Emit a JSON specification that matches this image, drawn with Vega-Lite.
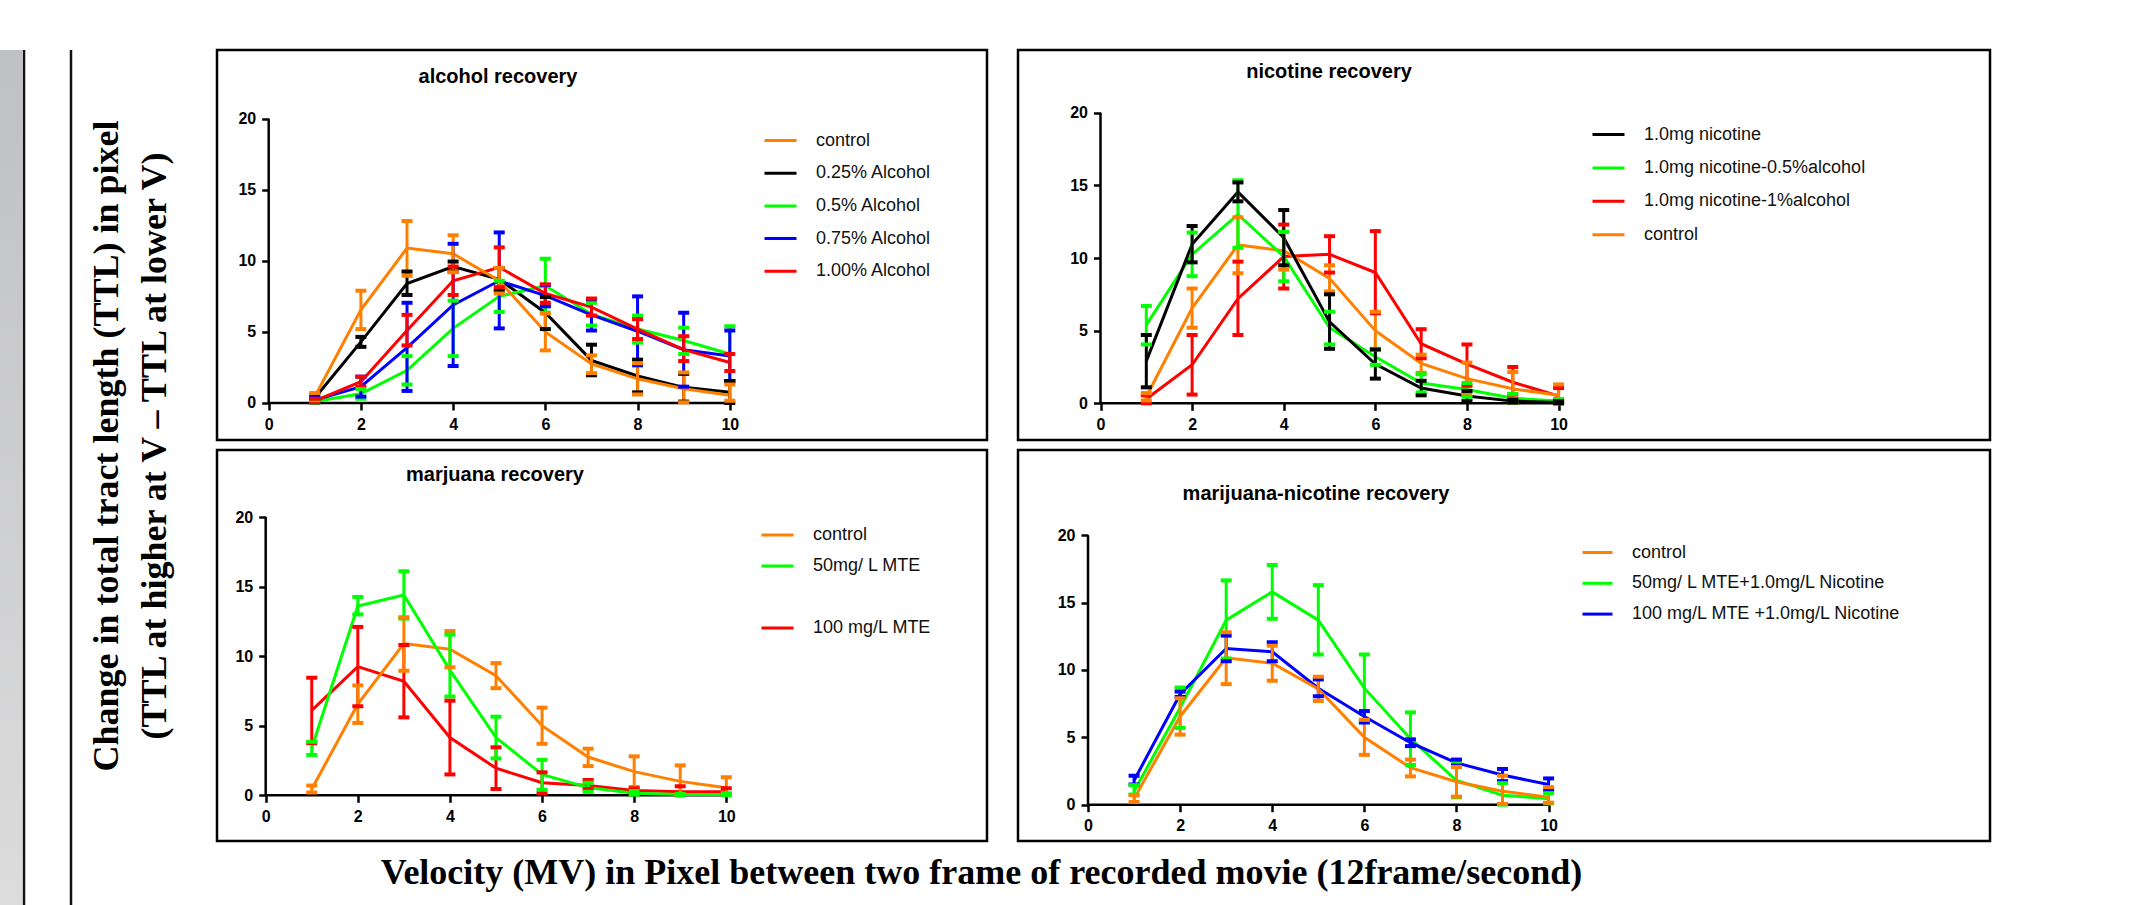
{
  "$schema": "https://vega.github.io/schema/vega-lite/v6.json",
  "background": "white",
  "padding": 0,
  "config": {
    "view": {"stroke": "black", "strokeWidth": 2.5},
    "axis": {"grid": false, "domain": false, "labelFont": "Liberation Sans", "labelFontWeight": "bold", "labelFontSize": 16, "labelColor": "black", "tickColor": "black", "tickWidth": 2.5, "tickSize": 7, "labelPadding": 6, "labelFlush": false},
    "legend": {"orient": "none", "title": null, "symbolType": "stroke", "symbolSize": 1024, "symbolStrokeWidth": 3.5, "labelFont": "Liberation Sans", "labelFontSize": 18, "labelColor": "#111", "labelOffset": 18, "labelLimit": 400, "padding": 0},
    "title": {"font": "Liberation Sans", "fontWeight": "bold", "fontSize": 20, "color": "black", "frame": "group", "anchor": "middle"},
    "line": {"strokeWidth": 3},
    "rule": {"strokeWidth": 3},
    "tick": {"opacity": 1, "orient": "horizontal", "size": 11, "thickness": 4}
  },
  "datasets": {
    "alcohol": [
      {"group":"0.25% Alcohol","v":1,"ttl":0.35,"lo":0.15,"hi":0.55},{"group":"0.25% Alcohol","v":2,"ttl":4.3,"lo":3.95,"hi":4.65},{"group":"0.25% Alcohol","v":3,"ttl":8.4,"lo":7.6,"hi":9.25},{"group":"0.25% Alcohol","v":4,"ttl":9.6,"lo":9.25,"hi":9.95},{"group":"0.25% Alcohol","v":5,"ttl":8.7,"lo":7.9,"hi":9.5},{"group":"0.25% Alcohol","v":6,"ttl":6.35,"lo":5.2,"hi":7.45},{"group":"0.25% Alcohol","v":7,"ttl":3.0,"lo":1.95,"hi":4.1},{"group":"0.25% Alcohol","v":8,"ttl":1.9,"lo":0.75,"hi":3.05},{"group":"0.25% Alcohol","v":9,"ttl":1.1,"lo":0.1,"hi":2.05},{"group":"0.25% Alcohol","v":10,"ttl":0.75,"lo":0.0,"hi":1.55},
      {"group":"0.5% Alcohol","v":1,"ttl":0.1,"lo":0.0,"hi":0.25},{"group":"0.5% Alcohol","v":2,"ttl":0.65,"lo":0.3,"hi":0.98},{"group":"0.5% Alcohol","v":3,"ttl":2.3,"lo":1.3,"hi":3.3},{"group":"0.5% Alcohol","v":4,"ttl":5.25,"lo":3.3,"hi":7.2},{"group":"0.5% Alcohol","v":5,"ttl":7.5,"lo":6.4,"hi":8.6},{"group":"0.5% Alcohol","v":6,"ttl":8.25,"lo":6.35,"hi":10.15},{"group":"0.5% Alcohol","v":7,"ttl":6.25,"lo":5.45,"hi":7.05},{"group":"0.5% Alcohol","v":8,"ttl":5.2,"lo":4.25,"hi":6.15},{"group":"0.5% Alcohol","v":9,"ttl":4.4,"lo":3.45,"hi":5.3},{"group":"0.5% Alcohol","v":10,"ttl":3.45,"lo":1.5,"hi":5.4},
      {"group":"0.75% Alcohol","v":1,"ttl":0.2,"lo":0.05,"hi":0.35},{"group":"0.75% Alcohol","v":2,"ttl":1.15,"lo":0.45,"hi":1.85},{"group":"0.75% Alcohol","v":3,"ttl":3.9,"lo":0.85,"hi":7.05},{"group":"0.75% Alcohol","v":4,"ttl":6.9,"lo":2.6,"hi":11.2},{"group":"0.75% Alcohol","v":5,"ttl":8.6,"lo":5.25,"hi":12.0},{"group":"0.75% Alcohol","v":6,"ttl":7.55,"lo":6.8,"hi":8.3},{"group":"0.75% Alcohol","v":7,"ttl":6.2,"lo":5.1,"hi":7.3},{"group":"0.75% Alcohol","v":8,"ttl":5.05,"lo":2.65,"hi":7.5},{"group":"0.75% Alcohol","v":9,"ttl":3.75,"lo":1.15,"hi":6.35},{"group":"0.75% Alcohol","v":10,"ttl":3.3,"lo":1.55,"hi":5.1},
      {"group":"1.00% Alcohol","v":1,"ttl":0.15,"lo":0.05,"hi":0.3},{"group":"1.00% Alcohol","v":2,"ttl":1.5,"lo":1.15,"hi":1.85},{"group":"1.00% Alcohol","v":3,"ttl":5.1,"lo":4.05,"hi":6.2},{"group":"1.00% Alcohol","v":4,"ttl":8.6,"lo":7.6,"hi":9.6},{"group":"1.00% Alcohol","v":5,"ttl":9.55,"lo":8.15,"hi":10.95},{"group":"1.00% Alcohol","v":6,"ttl":7.7,"lo":7.05,"hi":8.35},{"group":"1.00% Alcohol","v":7,"ttl":6.75,"lo":6.15,"hi":7.35},{"group":"1.00% Alcohol","v":8,"ttl":5.2,"lo":4.5,"hi":5.9},{"group":"1.00% Alcohol","v":9,"ttl":3.75,"lo":2.95,"hi":4.7},{"group":"1.00% Alcohol","v":10,"ttl":2.85,"lo":2.25,"hi":3.45},
      {"group":"control","v":1,"ttl":0.45,"lo":0.2,"hi":0.7},{"group":"control","v":2,"ttl":6.55,"lo":5.2,"hi":7.9},{"group":"control","v":3,"ttl":10.9,"lo":8.95,"hi":12.8},{"group":"control","v":4,"ttl":10.5,"lo":9.2,"hi":11.8},{"group":"control","v":5,"ttl":8.6,"lo":7.7,"hi":9.5},{"group":"control","v":6,"ttl":5.0,"lo":3.7,"hi":6.3},{"group":"control","v":7,"ttl":2.75,"lo":2.1,"hi":3.35},{"group":"control","v":8,"ttl":1.7,"lo":0.6,"hi":2.8},{"group":"control","v":9,"ttl":1.0,"lo":0.05,"hi":2.15},{"group":"control","v":10,"ttl":0.55,"lo":0.15,"hi":1.3}
    ],
    "nicotine": [
      {"group":"1.0mg nicotine-1%alcohol","v":1,"ttl":0.3,"lo":0.0,"hi":0.55},{"group":"1.0mg nicotine-1%alcohol","v":2,"ttl":2.65,"lo":0.6,"hi":4.7},{"group":"1.0mg nicotine-1%alcohol","v":3,"ttl":7.2,"lo":4.7,"hi":9.75},{"group":"1.0mg nicotine-1%alcohol","v":4,"ttl":10.1,"lo":7.9,"hi":12.3},{"group":"1.0mg nicotine-1%alcohol","v":5,"ttl":10.25,"lo":9.0,"hi":11.5},{"group":"1.0mg nicotine-1%alcohol","v":6,"ttl":9.0,"lo":6.2,"hi":11.85},{"group":"1.0mg nicotine-1%alcohol","v":7,"ttl":4.1,"lo":3.1,"hi":5.1},{"group":"1.0mg nicotine-1%alcohol","v":8,"ttl":2.7,"lo":1.2,"hi":4.05},{"group":"1.0mg nicotine-1%alcohol","v":9,"ttl":1.45,"lo":0.6,"hi":2.5},{"group":"1.0mg nicotine-1%alcohol","v":10,"ttl":0.5,"lo":0.0,"hi":1.05},
      {"group":"control","v":1,"ttl":0.45,"lo":0.2,"hi":0.7},{"group":"control","v":2,"ttl":6.55,"lo":5.2,"hi":7.9},{"group":"control","v":3,"ttl":10.9,"lo":8.95,"hi":12.8},{"group":"control","v":4,"ttl":10.5,"lo":9.2,"hi":11.8},{"group":"control","v":5,"ttl":8.6,"lo":7.7,"hi":9.5},{"group":"control","v":6,"ttl":5.0,"lo":3.7,"hi":6.3},{"group":"control","v":7,"ttl":2.75,"lo":2.1,"hi":3.35},{"group":"control","v":8,"ttl":1.7,"lo":0.6,"hi":2.8},{"group":"control","v":9,"ttl":1.0,"lo":0.05,"hi":2.15},{"group":"control","v":10,"ttl":0.55,"lo":0.15,"hi":1.3},
      {"group":"1.0mg nicotine-0.5%alcohol","v":1,"ttl":5.4,"lo":4.05,"hi":6.7},{"group":"1.0mg nicotine-0.5%alcohol","v":2,"ttl":10.25,"lo":8.75,"hi":11.75},{"group":"1.0mg nicotine-0.5%alcohol","v":3,"ttl":13.0,"lo":10.7,"hi":15.35},{"group":"1.0mg nicotine-0.5%alcohol","v":4,"ttl":10.1,"lo":8.4,"hi":11.8},{"group":"1.0mg nicotine-0.5%alcohol","v":5,"ttl":5.2,"lo":4.05,"hi":6.3},{"group":"1.0mg nicotine-0.5%alcohol","v":6,"ttl":3.2,"lo":2.65,"hi":3.75},{"group":"1.0mg nicotine-0.5%alcohol","v":7,"ttl":1.4,"lo":0.75,"hi":2.0},{"group":"1.0mg nicotine-0.5%alcohol","v":8,"ttl":0.95,"lo":0.45,"hi":1.4},{"group":"1.0mg nicotine-0.5%alcohol","v":9,"ttl":0.35,"lo":0.05,"hi":0.65},{"group":"1.0mg nicotine-0.5%alcohol","v":10,"ttl":0.15,"lo":0.0,"hi":0.3},
      {"group":"1.0mg nicotine","v":1,"ttl":2.9,"lo":1.1,"hi":4.7},{"group":"1.0mg nicotine","v":2,"ttl":10.95,"lo":9.7,"hi":12.2},{"group":"1.0mg nicotine","v":3,"ttl":14.55,"lo":13.9,"hi":15.2},{"group":"1.0mg nicotine","v":4,"ttl":11.4,"lo":9.5,"hi":13.3},{"group":"1.0mg nicotine","v":5,"ttl":5.6,"lo":3.75,"hi":7.5},{"group":"1.0mg nicotine","v":6,"ttl":2.7,"lo":1.7,"hi":3.7},{"group":"1.0mg nicotine","v":7,"ttl":1.05,"lo":0.55,"hi":1.55},{"group":"1.0mg nicotine","v":8,"ttl":0.5,"lo":0.15,"hi":0.85},{"group":"1.0mg nicotine","v":9,"ttl":0.15,"lo":0.05,"hi":0.25},{"group":"1.0mg nicotine","v":10,"ttl":0.05,"lo":0.0,"hi":0.15}
    ],
    "marjuana": [
      {"group":"100 mg/L MTE","v":1,"ttl":6.1,"lo":3.75,"hi":8.45},{"group":"100 mg/L MTE","v":2,"ttl":9.25,"lo":6.4,"hi":12.1},{"group":"100 mg/L MTE","v":3,"ttl":8.2,"lo":5.6,"hi":10.8},{"group":"100 mg/L MTE","v":4,"ttl":4.15,"lo":1.5,"hi":6.8},{"group":"100 mg/L MTE","v":5,"ttl":1.95,"lo":0.45,"hi":3.45},{"group":"100 mg/L MTE","v":6,"ttl":0.9,"lo":0.15,"hi":1.65},{"group":"100 mg/L MTE","v":7,"ttl":0.7,"lo":0.45,"hi":1.1},{"group":"100 mg/L MTE","v":8,"ttl":0.35,"lo":0.2,"hi":0.5},{"group":"100 mg/L MTE","v":9,"ttl":0.25,"lo":0.0,"hi":0.65},{"group":"100 mg/L MTE","v":10,"ttl":0.25,"lo":0.05,"hi":0.5},
      {"group":"control","v":1,"ttl":0.45,"lo":0.2,"hi":0.7},{"group":"control","v":2,"ttl":6.55,"lo":5.2,"hi":7.9},{"group":"control","v":3,"ttl":10.9,"lo":8.95,"hi":12.8},{"group":"control","v":4,"ttl":10.5,"lo":9.2,"hi":11.8},{"group":"control","v":5,"ttl":8.6,"lo":7.7,"hi":9.5},{"group":"control","v":6,"ttl":5.0,"lo":3.7,"hi":6.3},{"group":"control","v":7,"ttl":2.75,"lo":2.1,"hi":3.35},{"group":"control","v":8,"ttl":1.7,"lo":0.6,"hi":2.8},{"group":"control","v":9,"ttl":1.0,"lo":0.05,"hi":2.15},{"group":"control","v":10,"ttl":0.55,"lo":0.15,"hi":1.3},
      {"group":"50mg/ L MTE","v":1,"ttl":3.4,"lo":2.9,"hi":3.85},{"group":"50mg/ L MTE","v":2,"ttl":13.6,"lo":13.0,"hi":14.25},{"group":"50mg/ L MTE","v":3,"ttl":14.4,"lo":12.7,"hi":16.1},{"group":"50mg/ L MTE","v":4,"ttl":9.0,"lo":7.1,"hi":11.55},{"group":"50mg/ L MTE","v":5,"ttl":4.15,"lo":2.65,"hi":5.65},{"group":"50mg/ L MTE","v":6,"ttl":1.5,"lo":0.4,"hi":2.55},{"group":"50mg/ L MTE","v":7,"ttl":0.55,"lo":0.25,"hi":0.9},{"group":"50mg/ L MTE","v":8,"ttl":0.15,"lo":0.05,"hi":0.3},{"group":"50mg/ L MTE","v":9,"ttl":0.05,"lo":0.0,"hi":0.1},{"group":"50mg/ L MTE","v":10,"ttl":0.05,"lo":0.0,"hi":0.1}
    ],
    "marijuanaNicotine": [
      {"group":"50mg/ L MTE+1.0mg/L Nicotine","v":1,"ttl":1.0,"lo":0.75,"hi":1.45},{"group":"50mg/ L MTE+1.0mg/L Nicotine","v":2,"ttl":7.2,"lo":5.7,"hi":8.7},{"group":"50mg/ L MTE+1.0mg/L Nicotine","v":3,"ttl":13.7,"lo":10.85,"hi":16.65},{"group":"50mg/ L MTE+1.0mg/L Nicotine","v":4,"ttl":15.8,"lo":13.8,"hi":17.8},{"group":"50mg/ L MTE+1.0mg/L Nicotine","v":5,"ttl":13.7,"lo":11.15,"hi":16.3},{"group":"50mg/ L MTE+1.0mg/L Nicotine","v":6,"ttl":8.65,"lo":6.2,"hi":11.15},{"group":"50mg/ L MTE+1.0mg/L Nicotine","v":7,"ttl":4.9,"lo":2.95,"hi":6.85},{"group":"50mg/ L MTE+1.0mg/L Nicotine","v":8,"ttl":1.8,"lo":0.55,"hi":3.2},{"group":"50mg/ L MTE+1.0mg/L Nicotine","v":9,"ttl":0.7,"lo":0.0,"hi":1.6},{"group":"50mg/ L MTE+1.0mg/L Nicotine","v":10,"ttl":0.45,"lo":0.1,"hi":0.85},
      {"group":"100 mg/L MTE +1.0mg/L Nicotine","v":1,"ttl":1.8,"lo":1.5,"hi":2.15},{"group":"100 mg/L MTE +1.0mg/L Nicotine","v":2,"ttl":8.2,"lo":8.0,"hi":8.4},{"group":"100 mg/L MTE +1.0mg/L Nicotine","v":3,"ttl":11.6,"lo":10.65,"hi":12.55},{"group":"100 mg/L MTE +1.0mg/L Nicotine","v":4,"ttl":11.35,"lo":10.65,"hi":12.05},{"group":"100 mg/L MTE +1.0mg/L Nicotine","v":5,"ttl":8.65,"lo":8.05,"hi":9.3},{"group":"100 mg/L MTE +1.0mg/L Nicotine","v":6,"ttl":6.55,"lo":6.1,"hi":6.95},{"group":"100 mg/L MTE +1.0mg/L Nicotine","v":7,"ttl":4.6,"lo":4.35,"hi":4.85},{"group":"100 mg/L MTE +1.0mg/L Nicotine","v":8,"ttl":3.1,"lo":3.05,"hi":3.35},{"group":"100 mg/L MTE +1.0mg/L Nicotine","v":9,"ttl":2.2,"lo":1.75,"hi":2.65},{"group":"100 mg/L MTE +1.0mg/L Nicotine","v":10,"ttl":1.5,"lo":1.1,"hi":1.95},
      {"group":"control","v":1,"ttl":0.45,"lo":0.2,"hi":0.7},{"group":"control","v":2,"ttl":6.55,"lo":5.2,"hi":7.9},{"group":"control","v":3,"ttl":10.9,"lo":8.95,"hi":12.8},{"group":"control","v":4,"ttl":10.5,"lo":9.2,"hi":11.8},{"group":"control","v":5,"ttl":8.6,"lo":7.7,"hi":9.5},{"group":"control","v":6,"ttl":5.0,"lo":3.7,"hi":6.3},{"group":"control","v":7,"ttl":2.75,"lo":2.1,"hi":3.35},{"group":"control","v":8,"ttl":1.7,"lo":0.6,"hi":2.8},{"group":"control","v":9,"ttl":1.0,"lo":0.05,"hi":2.15},{"group":"control","v":10,"ttl":0.55,"lo":0.15,"hi":1.3}
    ]
  },
  "hconcat": [
    {
      "hconcat": [
        {
          "width": 22, "height": 905,
          "view": {"stroke": null},
          "data": {"values": [{}]},
          "mark": {"type": "rect", "fill": {"gradient": "linear", "x1": 0, "y1": 0, "x2": 0, "y2": 1, "stops": [{"offset": 0, "color": "#bfc0c4"}, {"offset": 1, "color": "#dedede"}]}},
          "encoding": {}
        },
        {
          "width": 47, "height": 905,
          "view": {"stroke": "#111111", "strokeWidth": 2.5, "strokeDash": [0, 47, 905, 47, 905, 0]},
          "data": {"values": [{}]},
          "mark": {"type": "rect", "opacity": 0},
          "encoding": {}
        }
      ],
      "spacing": 0
    },
    {
      "title": {"text": ["Change in total tract length (TTL) in pixel", "(TTL at higher at V \u2013 TTL at lower V)"], "orient": "left", "anchor": "middle", "frame": "bounds", "font": "Liberation Serif", "fontWeight": "bold", "fontSize": 36, "lineHeight": 48, "offset": 42},
      "vconcat": [
        {
          "title": {"text": " ", "orient": "top", "fontSize": 10, "offset": 38},
          "hconcat": [
            {
              "width": 770, "height": 390,
              "title": {"text": "alcohol recovery", "dx": -104, "offset": -37},
              "data": {"name": "alcohol"},
              "layer": [
                {"data": {"values": [{}]}, "mark": {"type": "rule", "color": "black", "strokeWidth": 2.5}, "encoding": {"x": {"datum": 0, "title": null}, "y": {"datum": 0, "title": null}, "y2": {"datum": 20}}},
                {"data": {"values": [{}]}, "mark": {"type": "rule", "color": "black", "strokeWidth": 2.5}, "encoding": {"x": {"datum": 0, "title": null}, "x2": {"datum": 10}, "y": {"datum": 0, "title": null}}},
                {"mark": "line", "encoding": {
                  "x": {"field": "v", "type": "quantitative", "title": null, "scale": {"domain": [-1.121, 15.578], "nice": false, "zero": false}, "axis": {"values": [0, 2, 4, 6, 8, 10], "offset": -37}},
                  "y": {"field": "ttl", "type": "quantitative", "title": null, "scale": {"domain": [-2.603, 24.833], "nice": false, "zero": false}, "axis": {"values": [0, 5, 10, 15, 20], "offset": -51.7}},
                  "color": {"field": "group", "type": "nominal", "scale": {"domain": ["control", "0.25% Alcohol", "0.5% Alcohol", "0.75% Alcohol", "1.00% Alcohol"], "range": ["#FF8000", "#000000", "#00FF00", "#0000FF", "#FF0000"]}, "legend": {"legendX": 546, "legendY": 73, "rowPadding": 5.7}}}},
                {"mark": "rule", "encoding": {"x": {"field": "v", "type": "quantitative", "title": null}, "y": {"field": "lo", "type": "quantitative", "title": null}, "y2": {"field": "hi"}, "color": {"field": "group", "type": "nominal", "legend": null}}},
                {"mark": "tick", "encoding": {"x": {"field": "v", "type": "quantitative", "title": null}, "y": {"field": "lo", "type": "quantitative", "title": null}, "color": {"field": "group", "type": "nominal", "legend": null}}},
                {"mark": "tick", "encoding": {"x": {"field": "v", "type": "quantitative", "title": null}, "y": {"field": "hi", "type": "quantitative", "title": null}, "color": {"field": "group", "type": "nominal", "legend": null}}}
              ]
            },
            {
              "width": 972, "height": 390,
              "title": {"text": "nicotine recovery", "dx": -175, "offset": -32},
              "data": {"name": "nicotine"},
              "layer": [
                {"data": {"values": [{}]}, "mark": {"type": "rule", "color": "black", "strokeWidth": 2.5}, "encoding": {"x": {"datum": 0, "title": null}, "y": {"datum": 0, "title": null}, "y2": {"datum": 20}}},
                {"data": {"values": [{}]}, "mark": {"type": "rule", "color": "black", "strokeWidth": 2.5}, "encoding": {"x": {"datum": 0, "title": null}, "x2": {"datum": 10}, "y": {"datum": 0, "title": null}}},
                {"mark": "line", "encoding": {
                  "x": {"field": "v", "type": "quantitative", "title": null, "scale": {"domain": [-1.801, 19.418], "nice": false, "zero": false}, "axis": {"values": [0, 2, 4, 6, 8, 10], "offset": -36.7}},
                  "y": {"field": "ttl", "type": "quantitative", "title": null, "scale": {"domain": [-2.526, 24.316], "nice": false, "zero": false}, "axis": {"values": [0, 5, 10, 15, 20], "offset": -82.5}},
                  "color": {"field": "group", "type": "nominal", "scale": {"domain": ["1.0mg nicotine", "1.0mg nicotine-0.5%alcohol", "1.0mg nicotine-1%alcohol", "control"], "range": ["#000000", "#00FF00", "#FF0000", "#FF8000"]}, "legend": {"legendX": 573, "legendY": 67, "rowPadding": 6.4}}}},
                {"mark": "rule", "encoding": {"x": {"field": "v", "type": "quantitative", "title": null}, "y": {"field": "lo", "type": "quantitative", "title": null}, "y2": {"field": "hi"}, "color": {"field": "group", "type": "nominal", "legend": null}}},
                {"mark": "tick", "encoding": {"x": {"field": "v", "type": "quantitative", "title": null}, "y": {"field": "lo", "type": "quantitative", "title": null}, "color": {"field": "group", "type": "nominal", "legend": null}}},
                {"mark": "tick", "encoding": {"x": {"field": "v", "type": "quantitative", "title": null}, "y": {"field": "hi", "type": "quantitative", "title": null}, "color": {"field": "group", "type": "nominal", "legend": null}}}
              ]
            }
          ],
          "spacing": 27,
          "resolve": {"scale": {"x": "independent", "y": "independent", "color": "independent"}, "legend": {"color": "independent"}}
        },
        {
          "title": {"text": "Velocity (MV) in Pixel between two frame of recorded movie (12frame/second)", "orient": "bottom", "anchor": "middle", "frame": "bounds", "dx": -122, "font": "Liberation Serif", "fontWeight": "bold", "fontSize": 36, "offset": 14},
          "hconcat": [
            {
              "width": 770, "height": 391,
              "title": {"text": "marjuana recovery", "dx": -107, "offset": -34.5},
              "data": {"name": "marjuana"},
              "layer": [
                {"data": {"values": [{}]}, "mark": {"type": "rule", "color": "black", "strokeWidth": 2.5}, "encoding": {"x": {"datum": 0, "title": null}, "y": {"datum": 0, "title": null}, "y2": {"datum": 20}}},
                {"data": {"values": [{}]}, "mark": {"type": "rule", "color": "black", "strokeWidth": 2.5}, "encoding": {"x": {"datum": 0, "title": null}, "x2": {"datum": 10}, "y": {"datum": 0, "title": null}}},
                {"mark": "line", "encoding": {
                  "x": {"field": "v", "type": "quantitative", "title": null, "scale": {"domain": [-1.057, 15.66], "nice": false, "zero": false}, "axis": {"values": [0, 2, 4, 6, 8, 10], "offset": -45.7}},
                  "y": {"field": "ttl", "type": "quantitative", "title": null, "scale": {"domain": [-3.284, 24.815], "nice": false, "zero": false}, "axis": {"values": [0, 5, 10, 15, 20], "offset": -48.7}},
                  "color": {"field": "group", "type": "nominal", "scale": {"domain": ["control", "50mg/ L MTE", " ", "100 mg/L MTE"], "range": ["#FF8000", "#00FF00", "rgba(0,0,0,0)", "#FF0000"]}, "legend": {"legendX": 543, "legendY": 67.5, "rowPadding": 4.0}}}},
                {"mark": "rule", "encoding": {"x": {"field": "v", "type": "quantitative", "title": null}, "y": {"field": "lo", "type": "quantitative", "title": null}, "y2": {"field": "hi"}, "color": {"field": "group", "type": "nominal", "legend": null}}},
                {"mark": "tick", "encoding": {"x": {"field": "v", "type": "quantitative", "title": null}, "y": {"field": "lo", "type": "quantitative", "title": null}, "color": {"field": "group", "type": "nominal", "legend": null}}},
                {"mark": "tick", "encoding": {"x": {"field": "v", "type": "quantitative", "title": null}, "y": {"field": "hi", "type": "quantitative", "title": null}, "color": {"field": "group", "type": "nominal", "legend": null}}}
              ]
            },
            {
              "width": 972, "height": 391,
              "title": {"text": "marijuana-nicotine recovery", "dx": -188, "offset": -54},
              "data": {"name": "marijuanaNicotine"},
              "layer": [
                {"data": {"values": [{}]}, "mark": {"type": "rule", "color": "black", "strokeWidth": 2.5}, "encoding": {"x": {"datum": 0, "title": null}, "y": {"datum": 0, "title": null}, "y2": {"datum": 20}}},
                {"data": {"values": [{}]}, "mark": {"type": "rule", "color": "black", "strokeWidth": 2.5}, "encoding": {"x": {"datum": 0, "title": null}, "x2": {"datum": 10}, "y": {"datum": 0, "title": null}}},
                {"mark": "line", "encoding": {
                  "x": {"field": "v", "type": "quantitative", "title": null, "scale": {"domain": [-1.52, 19.583], "nice": false, "zero": false}, "axis": {"values": [0, 2, 4, 6, 8, 10], "offset": -36.3}},
                  "y": {"field": "ttl", "type": "quantitative", "title": null, "scale": {"domain": [-2.695, 26.33], "nice": false, "zero": false}, "axis": {"values": [0, 5, 10, 15, 20], "offset": -70}},
                  "color": {"field": "group", "type": "nominal", "scale": {"domain": ["control", "50mg/ L MTE+1.0mg/L Nicotine", "100 mg/L MTE +1.0mg/L Nicotine"], "range": ["#FF8000", "#00FF00", "#0000FF"]}, "legend": {"legendX": 563, "legendY": 86, "symbolSize": 900, "rowPadding": 4.8, "labelLimit": 345}}}},
                {"mark": "rule", "encoding": {"x": {"field": "v", "type": "quantitative", "title": null}, "y": {"field": "lo", "type": "quantitative", "title": null}, "y2": {"field": "hi"}, "color": {"field": "group", "type": "nominal", "legend": null}}},
                {"mark": "tick", "encoding": {"x": {"field": "v", "type": "quantitative", "title": null}, "y": {"field": "lo", "type": "quantitative", "title": null}, "color": {"field": "group", "type": "nominal", "legend": null}}},
                {"mark": "tick", "encoding": {"x": {"field": "v", "type": "quantitative", "title": null}, "y": {"field": "hi", "type": "quantitative", "title": null}, "color": {"field": "group", "type": "nominal", "legend": null}}}
              ]
            }
          ],
          "spacing": 27,
          "resolve": {"scale": {"x": "independent", "y": "independent", "color": "independent"}, "legend": {"color": "independent"}}
        }
      ],
      "spacing": 6,
      "resolve": {"scale": {"x": "independent", "y": "independent", "color": "independent"}, "legend": {"color": "independent"}}
    }
  ],
  "spacing": 15,
  "resolve": {"scale": {"x": "independent", "y": "independent", "color": "independent"}, "legend": {"color": "independent"}}
}
